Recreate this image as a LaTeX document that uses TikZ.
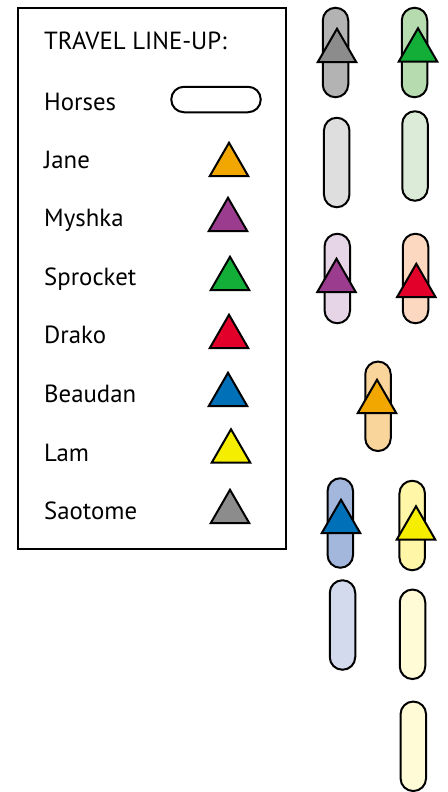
\documentclass[tikz,border=0pt]{standalone}
\usepackage{fontspec}
\setmainfont{PT Sans}
\usepackage{tikz}
\usetikzlibrary{shapes.geometric}
\definecolor{ridergray}{HTML}{8C8C8C}
\definecolor{ridergreen}{HTML}{13AE38}
\definecolor{riderpurple}{HTML}{9B3C8E}
\definecolor{riderred}{HTML}{E2002A}
\definecolor{riderorange}{HTML}{F1A700}
\definecolor{riderblue}{HTML}{0071B9}
\definecolor{rideryellow}{HTML}{F6EE00}
\definecolor{pillgray}{HTML}{B3B3B3}
\definecolor{pillgreen}{HTML}{B5DBAF}
\definecolor{pilllightgray}{HTML}{DEDEDE}
\definecolor{pillpalegreen}{HTML}{DCEBD8}
\definecolor{pilllilac}{HTML}{E6D5E6}
\definecolor{pillpeach}{HTML}{FCD8C0}
\definecolor{pillorange}{HTML}{F9D59B}
\definecolor{pillblue}{HTML}{A3B6DC}
\definecolor{pillyellow}{HTML}{FFF6A8}
\definecolor{pillpaleblue}{HTML}{D4DAEE}
\definecolor{pillpaleyellow}{HTML}{FFFBD6}

\begin{document}
\begin{tikzpicture}[x=1pt, y=-1pt,
    horse/.style={draw, line width=2pt, fill=#1, inner sep=0pt,
                  minimum width=25.5pt, minimum height=89.5pt, rounded corners=12.7pt},
    rider/.style={draw, line width=2pt, fill=#1, regular polygon, regular polygon sides=3,
                  inner sep=0pt, minimum size=44.5pt},
    lbl/.style={anchor=base west, inner sep=0pt, font=\fontsize{24.8}{28}\selectfont},
]
    \useasboundingbox (0,0) rectangle (447,792);

    % Legend
    \draw[line width=2.3pt] (18,8) rectangle (286,549);
    \node[lbl] (title) at (44,50) {TRAVEL LINE-UP:};
    \node[lbl] (lblhorses) at (44,110) {Horses};
    \node[lbl] (lbljane) at (44,168) {Jane};
    \node[lbl] (lblmyshka) at (44,226) {Myshka};
    \node[lbl] (lblsprocket) at (44,285) {Sprocket};
    \node[lbl] (lbldrako) at (44,343) {Drako};
    \node[lbl] (lblbeaudan) at (44,402) {Beaudan};
    \node[lbl] (lbllam) at (44,461) {Lam};
    \node[lbl] (lblsaotome) at (44,519) {Saotome};

    \node[horse=white, minimum width=89.5pt, minimum height=25.5pt] (keyhorse) at (216,99.5) {};
    \node[rider=riderorange] (keyjane) at (229,165) {};
    \node[rider=riderpurple] (keymyshka) at (228,220) {};
    \node[rider=ridergreen] (keysprocket) at (230,279) {};
    \node[rider=riderred] (keydrako) at (229,337) {};
    \node[rider=riderblue] (keybeaudan) at (228,395) {};
    \node[rider=rideryellow] (keylam) at (231,451.5) {};
    \node[rider=ridergray] (keysaotome) at (230,512) {};

    % Horses
    \node[horse=pillgray] (horse1) at (335.5,52.5) {};
    \node[horse=pillgreen] (horse2) at (414.5,52.5) {};
    \node[horse=pilllightgray] (horse3) at (336.7,162.5) {};
    \node[horse=pillpalegreen] (horse4) at (415,156) {};
    \node[horse=pilllilac] (horse5) at (337.3,278.5) {};
    \node[horse=pillpeach] (horse6) at (415.5,278.5) {};
    \node[horse=pillorange] (horse7) at (378,406.3) {};
    \node[horse=pillblue] (horse8) at (340.3,523) {};
    \node[horse=pillyellow] (horse9) at (412.2,525.5) {};
    \node[horse=pillpaleblue] (horse10) at (342.5,625) {};
    \node[horse=pillpaleyellow] (horse11) at (412.5,634.3) {};
    \node[horse=pillpaleyellow] (horse12) at (413.3,746.3) {};

    % Riders
    \node[rider=ridergray] (saotome) at (337,51) {};
    \node[rider=ridergreen] (sprocket) at (418,50.5) {};
    \node[rider=riderpurple] (myshka) at (336.5,281) {};
    \node[rider=riderred] (drako) at (416.3,286) {};
    \node[rider=riderorange] (jane) at (377,402) {};
    \node[rider=riderblue] (beaudan) at (341,522) {};
    \node[rider=rideryellow] (lam) at (416,528.5) {};
\end{tikzpicture}
\end{document}
